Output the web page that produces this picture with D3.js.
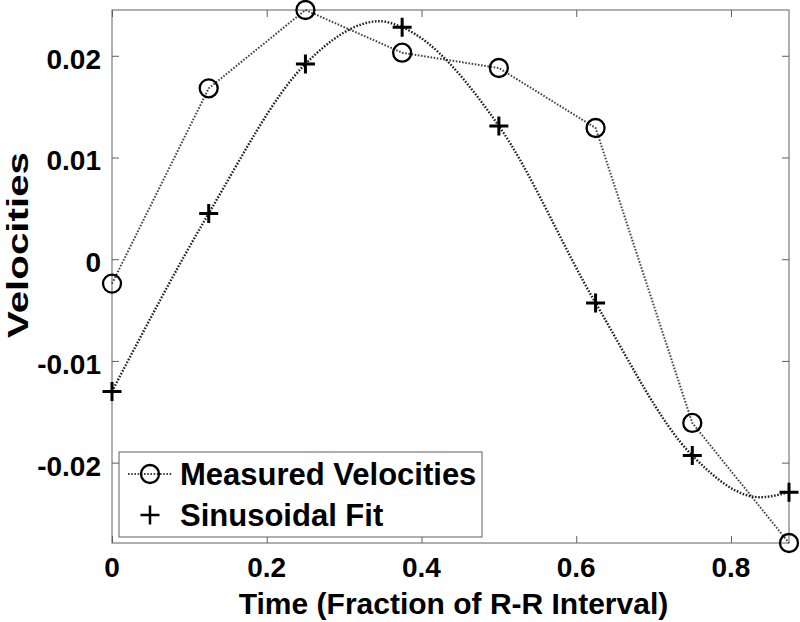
<!DOCTYPE html>
<html>
<head>
<meta charset="utf-8">
<script src="https://cdn.jsdelivr.net/npm/d3@7"></script>
<style>
  html, body { margin: 0; padding: 0; background: #fff; }
  svg { display: block; font-family: "Liberation Sans", Arial, Helvetica, sans-serif; font-weight: bold; }
</style>
</head>
<body>
<svg id="chart" width="800" height="622"></svg>
<script>
// ---- data ----
const times = [0, 0.125, 0.25, 0.375, 0.5, 0.625, 0.75, 0.875];
const measured = [-0.0024, 0.0168, 0.0245, 0.0203, 0.0188, 0.0129, -0.0161, -0.0279];
const fitPoints = [-0.0130, 0.0045, 0.0192, 0.0228, 0.0131, -0.0043, -0.0193, -0.0229];
// points (including its peak and trough)
const fitCurveT = [0, 0.125, 0.25, 0.3464, 0.375, 0.5, 0.625, 0.75, 0.8375, 0.875];
const fitCurveV = [-0.0130, 0.0045, 0.0192, 0.0234, 0.0228, 0.0131, -0.0043, -0.0193, -0.0234, -0.0229];
const xTicks = [0, 0.2, 0.4, 0.6, 0.8];
const yTicks = [-0.02, -0.01, 0, 0.01, 0.02];
const xTickLabels = ["0", "0.2", "0.4", "0.6", "0.8"];
const yTickLabels = ["-0.02", "-0.01", "0", "0.01", "0.02"];
const seriesNames = ["Measured Velocities", "Sinusoidal Fit"];
const xLabel = "Time (Fraction of R-R Interval)";
const yLabel = "Velocities";

// ---- layout ----
const W = 800, H = 622;
const m = { left: 112, top: 10, right: 11, bottom: 79 };
const pw = W - m.left - m.right, ph = H - m.top - m.bottom;

const svg = d3.select("#chart");
const x = d3.scaleLinear().domain([0, 0.875]).range([m.left, m.left + pw]);
const y = d3.scaleLinear().domain([-0.0279, 0.0245]).range([m.top + ph, m.top]);

const axisColor = "#606060";
const tickLen = 7;

// box
svg.append("rect")
  .attr("x", m.left).attr("y", m.top).attr("width", pw).attr("height", ph)
  .attr("fill", "none").attr("stroke", axisColor).attr("stroke-width", 1);

// axes (inward ticks, both sides)
const fmtX = (d, i) => xTickLabels[i];
const fmtY = (d, i) => yTickLabels[i];
const gxB = svg.append("g").attr("transform", `translate(0,${m.top + ph})`)
  .call(d3.axisTop(x).tickValues(xTicks).tickSize(tickLen).tickFormat(""));
const gxT = svg.append("g").attr("transform", `translate(0,${m.top})`)
  .call(d3.axisBottom(x).tickValues(xTicks).tickSize(tickLen).tickFormat(""));
const gyL = svg.append("g").attr("transform", `translate(${m.left},0)`)
  .call(d3.axisRight(y).tickValues(yTicks).tickSize(tickLen).tickFormat(""));
const gyR = svg.append("g").attr("transform", `translate(${m.left + pw},0)`)
  .call(d3.axisLeft(y).tickValues(yTicks).tickSize(tickLen).tickFormat(""));
[gxB, gxT, gyL, gyR].forEach(g => {
  g.select(".domain").remove();
  g.selectAll("line").attr("stroke", axisColor);
});

// tick labels
svg.append("g").selectAll("text").data(xTicks).join("text")
  .attr("x", d => x(d)).attr("y", m.top + ph + 34)
  .attr("text-anchor", "middle").attr("font-size", 28).attr("fill", "#000")
  .text(fmtX);
svg.append("g").selectAll("text").data(yTicks).join("text")
  .attr("x", m.left - 11).attr("y", d => y(d) + 13)
  .attr("text-anchor", "end").attr("font-size", 28).attr("fill", "#000")
  .text(fmtY);

// axis labels
svg.append("text")
  .attr("x", m.left + pw / 2 + 3).attr("y", 614)
  .attr("text-anchor", "middle").attr("font-size", 30).attr("fill", "#000")
  .text(xLabel);
svg.append("text")
  .attr("transform", `translate(28,245) rotate(-90)`)
  .attr("text-anchor", "middle").attr("font-size", 30).attr("fill", "#000")
  .attr("textLength", 186).attr("lengthAdjust", "spacingAndGlyphs")
  .text(yLabel);

// lines
const lineM = d3.line().x((d, i) => x(times[i])).y(d => y(d));
svg.append("path").datum(measured)
  .attr("d", lineM)
  .attr("fill", "none").attr("stroke", "#444").attr("stroke-width", 2)
  .attr("stroke-dasharray", "1.6,1.6");

const lineF = d3.line().x((d, i) => x(fitCurveT[i])).y(d => y(d)).curve(d3.curveMonotoneX);
svg.append("path").datum(fitCurveV)
  .attr("d", lineF)
  .attr("fill", "none").attr("stroke", "#222").attr("stroke-width", 2.4)
  .attr("stroke-dasharray", "1.6,1.6");

// markers
svg.append("g").selectAll("circle").data(measured).join("circle")
  .attr("cx", (d, i) => x(times[i])).attr("cy", d => y(d)).attr("r", 9)
  .attr("fill", "none").attr("stroke", "#000").attr("stroke-width", 2.3);

const plusSize = 9.5;
const plusPath = (cx, cy, s) => `M${cx - s},${cy}H${cx + s}M${cx},${cy - s}V${cy + s}`;
svg.append("g").selectAll("path").data(fitPoints).join("path")
  .attr("d", (d, i) => plusPath(x(times[i]), y(d), plusSize))
  .attr("fill", "none").attr("stroke", "#000").attr("stroke-width", 3);

// legend
const lg = svg.append("g");
lg.append("rect").attr("x", 119).attr("y", 452).attr("width", 363).attr("height", 85)
  .attr("fill", "#fff").attr("stroke", axisColor).attr("stroke-width", 1);
lg.append("line").attr("x1", 128).attr("x2", 172).attr("y1", 474).attr("y2", 474)
  .attr("stroke", "#444").attr("stroke-width", 2).attr("stroke-dasharray", "1.6,1.6");
lg.append("circle").attr("cx", 150).attr("cy", 474).attr("r", 9)
  .attr("fill", "none").attr("stroke", "#000").attr("stroke-width", 2.3);
lg.append("path").attr("d", plusPath(150, 515, plusSize))
  .attr("fill", "none").attr("stroke", "#000").attr("stroke-width", 2.5);
lg.append("text").attr("x", 180).attr("y", 485).attr("font-size", 31).attr("fill", "#000").text(seriesNames[0]);
lg.append("text").attr("x", 180).attr("y", 526).attr("font-size", 31).attr("fill", "#000").text(seriesNames[1]);
</script>
</body>
</html>
